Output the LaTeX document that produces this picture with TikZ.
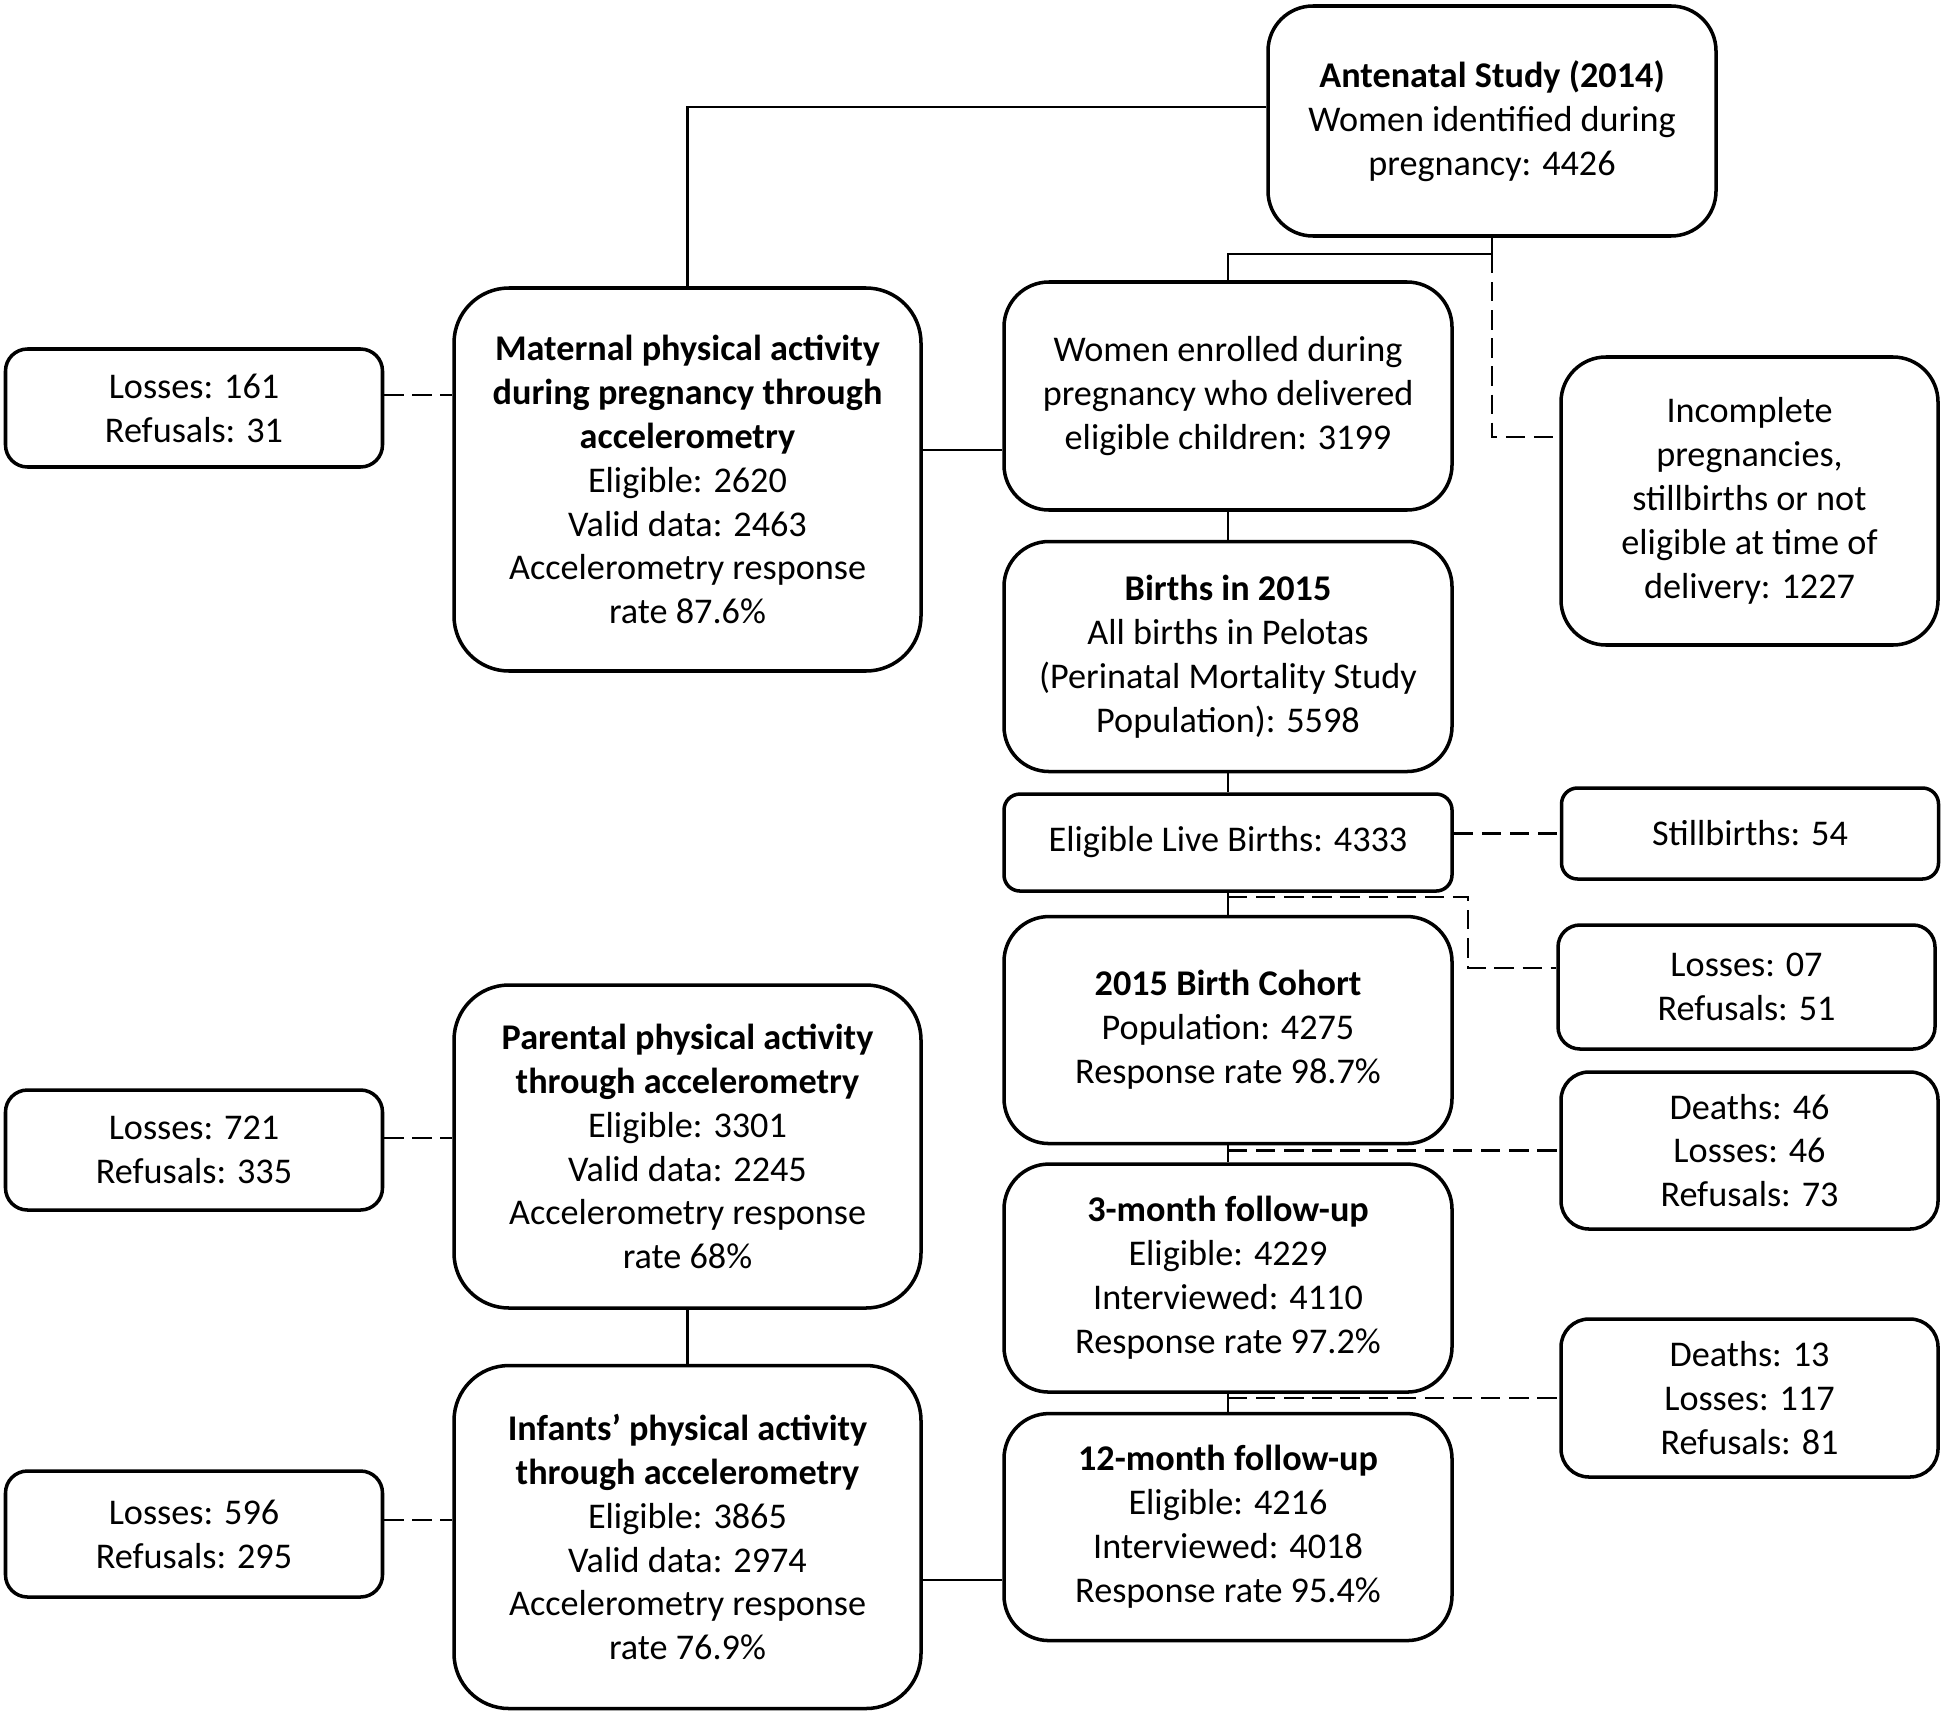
\documentclass[tikz,border=0pt]{standalone}
\usepackage{fontspec}
\setmainfont{Carlito}
\usepackage{tikz}
\usetikzlibrary{positioning}

\begin{document}
\begin{tikzpicture}
  [every node/.style={rectangle,draw,align=center,line width=1pt,inner sep=2pt,
     font=\fontsize{10.3}{12.5}\selectfont},
   bigbox/.style={rounded corners=5.5mm,minimum width=4.67cm},
   midbox/.style={rounded corners=4.5mm,minimum width=4.48cm},
   sidebox/.style={rounded corners=2.2mm,minimum width=3.77cm},
   link/.style={line width=0.8pt},
   lossline/.style={line width=0.8pt,dash pattern=on 5.5pt off 2.5pt}]

  \useasboundingbox (0,0) rectangle (19.46,-17.15);

  % study flow, middle column
  \node[midbox,minimum height=2.30cm] (ante) at (14.92,-1.21) {\textbf{Antenatal Study (2014)}\\Women identified during\\pregnancy: 4426};
  \node[midbox,minimum height=2.28cm] (women) at (12.28,-3.96) {Women enrolled during\\pregnancy who delivered\\eligible children: 3199};
  \node[midbox,minimum height=2.30cm,below=0.28cm of women] (births) {\textbf{Births in 2015}\\All births in Pelotas\\(Perinatal Mortality Study\\Population): 5598};
  \node[midbox,rounded corners=1.6mm,minimum height=0.97cm,below=0.19cm of births] (elig) {Eligible Live Births: 4333};
  \node[midbox,minimum height=2.27cm,below=0.22cm of elig] (cohort) {\textbf{2015 Birth Cohort}\\Population: 4275\\Response rate 98.7\%};
  \node[midbox,minimum height=2.28cm,below=0.17cm of cohort] (month3) {\textbf{3-month follow-up}\\Eligible: 4229\\Interviewed: 4110\\Response rate 97.2\%};
  \node[midbox,minimum height=2.27cm,below=0.18cm of month3] (month12) {\textbf{12-month follow-up}\\Eligible: 4216\\Interviewed: 4018\\Response rate 95.4\%};

  % accelerometry boxes, left column
  \node[bigbox,minimum height=3.83cm] (maternal) at (6.875,-4.795) {\textbf{Maternal physical activity}\\\textbf{during pregnancy through}\\\textbf{accelerometry}\\Eligible: 2620\\Valid data: 2463\\Accelerometry response\\rate 87.6\%};
  \node[bigbox,minimum height=3.23cm] (parental) at (6.875,-11.465) {\textbf{Parental physical activity}\\\textbf{through accelerometry}\\Eligible: 3301\\Valid data: 2245\\Accelerometry response\\rate 68\%};
  \node[bigbox,minimum height=3.43cm,below=0.54cm of parental] (infants) {\textbf{Infants’ physical activity}\\\textbf{through accelerometry}\\Eligible: 3865\\Valid data: 2974\\Accelerometry response\\rate 76.9\%};

  % losses
  \node[sidebox,minimum height=1.18cm] (loss161) at (1.94,-4.08) {Losses: 161\\Refusals: 31};
  \node[sidebox,minimum height=1.20cm] (loss721) at (1.94,-11.50) {Losses: 721\\Refusals: 335};
  \node[sidebox,minimum height=1.26cm] (loss596) at (1.94,-15.34) {Losses: 596\\Refusals: 295};
  \node[sidebox,rounded corners=4.5mm,minimum height=2.88cm] (incomp) at (17.495,-5.01) {Incomplete\\pregnancies,\\stillbirths or not\\eligible at time of\\delivery: 1227};
  \node[sidebox,rounded corners=1.6mm,minimum height=0.91cm] (still) at (17.50,-8.335) {Stillbirths: 54};
  \node[sidebox,minimum height=1.24cm] (loss07) at (17.465,-9.87) {Losses: 07\\Refusals: 51};
  \node[sidebox,rounded corners=2.8mm,minimum height=1.57cm] (death46) at (17.495,-11.505) {Deaths: 46\\Losses: 46\\Refusals: 73};
  \node[sidebox,rounded corners=2.8mm,minimum height=1.58cm] (death13) at (17.495,-13.98) {Deaths: 13\\Losses: 117\\Refusals: 81};

  \coordinate (split) at (14.92,-2.54);
  \coordinate (bend) at (14.68,-9.68);

  % connectors
  \draw[link] (ante.west |- 0,-1.07) -| (maternal.north);
  \draw[link] (ante.south) -- (split) -| (women.north);
  \draw[lossline] (split) |- (incomp.west |- 0,-4.37);
  \draw[link] (maternal.east |- 0,-4.50) -- (women.west |- 0,-4.50);
  \draw[lossline] (loss161.east |- 0,-3.95) -- (maternal.west |- 0,-3.95);

  \foreach \from/\to in {women/births,births/elig,elig/cohort,cohort/month3,month3/month12,parental/infants}
    \draw[link] (\from.south) -- (\to.north);

  \draw[lossline] (elig.east |- still.west) -- (still.west);
  \draw[lossline] (elig.south |- 0,-8.97) -| (bend) -- (loss07.west |- bend);
  \draw[lossline] (cohort.south |- death46.west) -- (death46.west);
  \draw[lossline] (month3.south |- death13.west) -- (death13.west);

  \draw[lossline] (loss721.east |- 0,-11.38) -- (parental.west |- 0,-11.38);
  \draw[lossline] (loss596.east |- 0,-15.20) -- (infants.west |- 0,-15.20);
  \draw[link] (infants.east |- 0,-15.80) -- (month12.west |- 0,-15.80);

\end{tikzpicture}
\end{document}
